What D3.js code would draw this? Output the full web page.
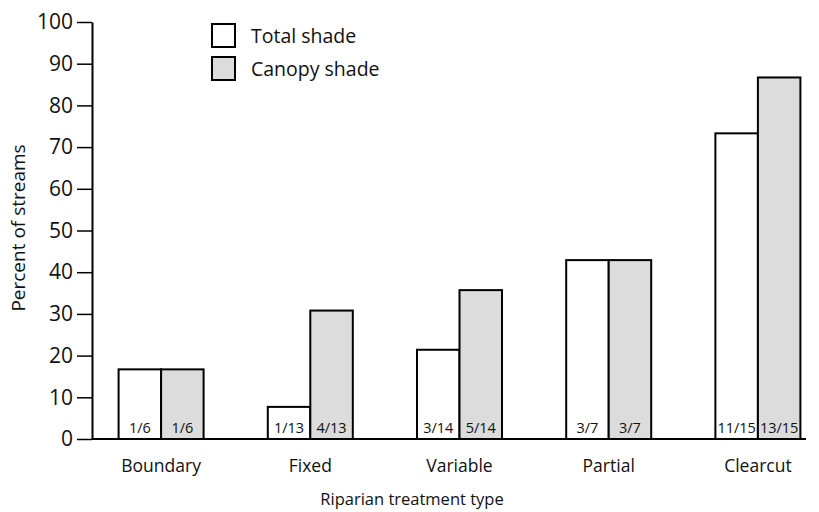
<!DOCTYPE html>
<html><head><meta charset="utf-8">
<script src="https://cdn.jsdelivr.net/npm/d3@7"></script>
<style>body{margin:0;background:#fff;} text{font-family:"Open Sans","Noto Sans",sans-serif;fill:#111;}</style>
</head><body>
<svg id="c" width="819" height="512"></svg>
<script>
const categories = ["Boundary","Fixed","Variable","Partial","Clearcut"];
const seriesNames = ["Total shade","Canopy shade"];
const totalShade = [16.7, 7.7, 21.4, 42.9, 73.3];
const canopyShade = [16.7, 30.8, 35.7, 42.9, 86.7];
const totalLabels = ["1/6","1/13","3/14","3/7","11/15"];
const canopyLabels = ["1/6","4/13","5/14","3/7","13/15"];
const yTicks = [0,10,20,30,40,50,60,70,80,90,100];
const colors = ["#ffffff","#dcdcdc"];

const svg = d3.select("#c");
const y = d3.scaleLinear().domain([0,100]).range([439,22]);
const x = d3.scaleBand().domain(categories).range([86.5,832.5]).padding(0);
const inner = d3.scaleBand().domain([0,1]).range([-42.5,42.5]);

// y axis
const yAxis = d3.axisLeft(y).tickValues(yTicks).tickSize(15).tickPadding(4).tickSizeOuter(0);
const ya = svg.append("g").attr("transform","translate(92,0)").call(yAxis);
ya.select(".domain").attr("stroke","#000").attr("stroke-width",2);
ya.selectAll(".tick line").attr("stroke","#000").attr("stroke-width",1.5);
ya.selectAll(".tick text").style("font-size","21px").attr("fill","#111");

const data = categories.map((c,i)=>({c, vals:[totalShade[i],canopyShade[i]], labs:[totalLabels[i],canopyLabels[i]]}));
const g = svg.append("g");
data.forEach(d=>{
  const cx = x(d.c)+x.bandwidth()/2;
  d.vals.forEach((v,j)=>{
    g.append("rect").attr("x",cx+inner(j)).attr("y",y(v)).attr("width",inner.bandwidth()).attr("height",y(0)-y(v))
      .attr("fill",colors[j]).attr("stroke","#000").attr("stroke-width",2);
    g.append("text").attr("x",cx+inner(j)+inner.bandwidth()/2).attr("y",y(0)-6).attr("text-anchor","middle")
      .style("font-size","14.5px").text(d.labs[j]);
  });
  svg.append("text").attr("x",cx).attr("y",472).attr("text-anchor","middle").style("font-size","17.5px").text(d.c);
});

// x axis line
svg.append("line").attr("x1",92).attr("x2",806).attr("y1",y(0)).attr("y2",y(0)).attr("stroke","#000").attr("stroke-width",2);

// axis titles
svg.append("text").attr("transform","translate(25,228) rotate(-90)").attr("text-anchor","middle").style("font-size","19px").text("Percent of streams");
svg.append("text").attr("x",412).attr("y",505).attr("text-anchor","middle").style("font-size","16.5px").text("Riparian treatment type");

// legend
seriesNames.forEach((s,i)=>{
  const ly = 24 + i*33;
  svg.append("rect").attr("x",212).attr("y",ly).attr("width",23).attr("height",23).attr("fill",colors[i]).attr("stroke","#000").attr("stroke-width",2);
  svg.append("text").attr("x",251).attr("y",ly+19).style("font-size","19.5px").text(s);
});
</script>
</body></html>
